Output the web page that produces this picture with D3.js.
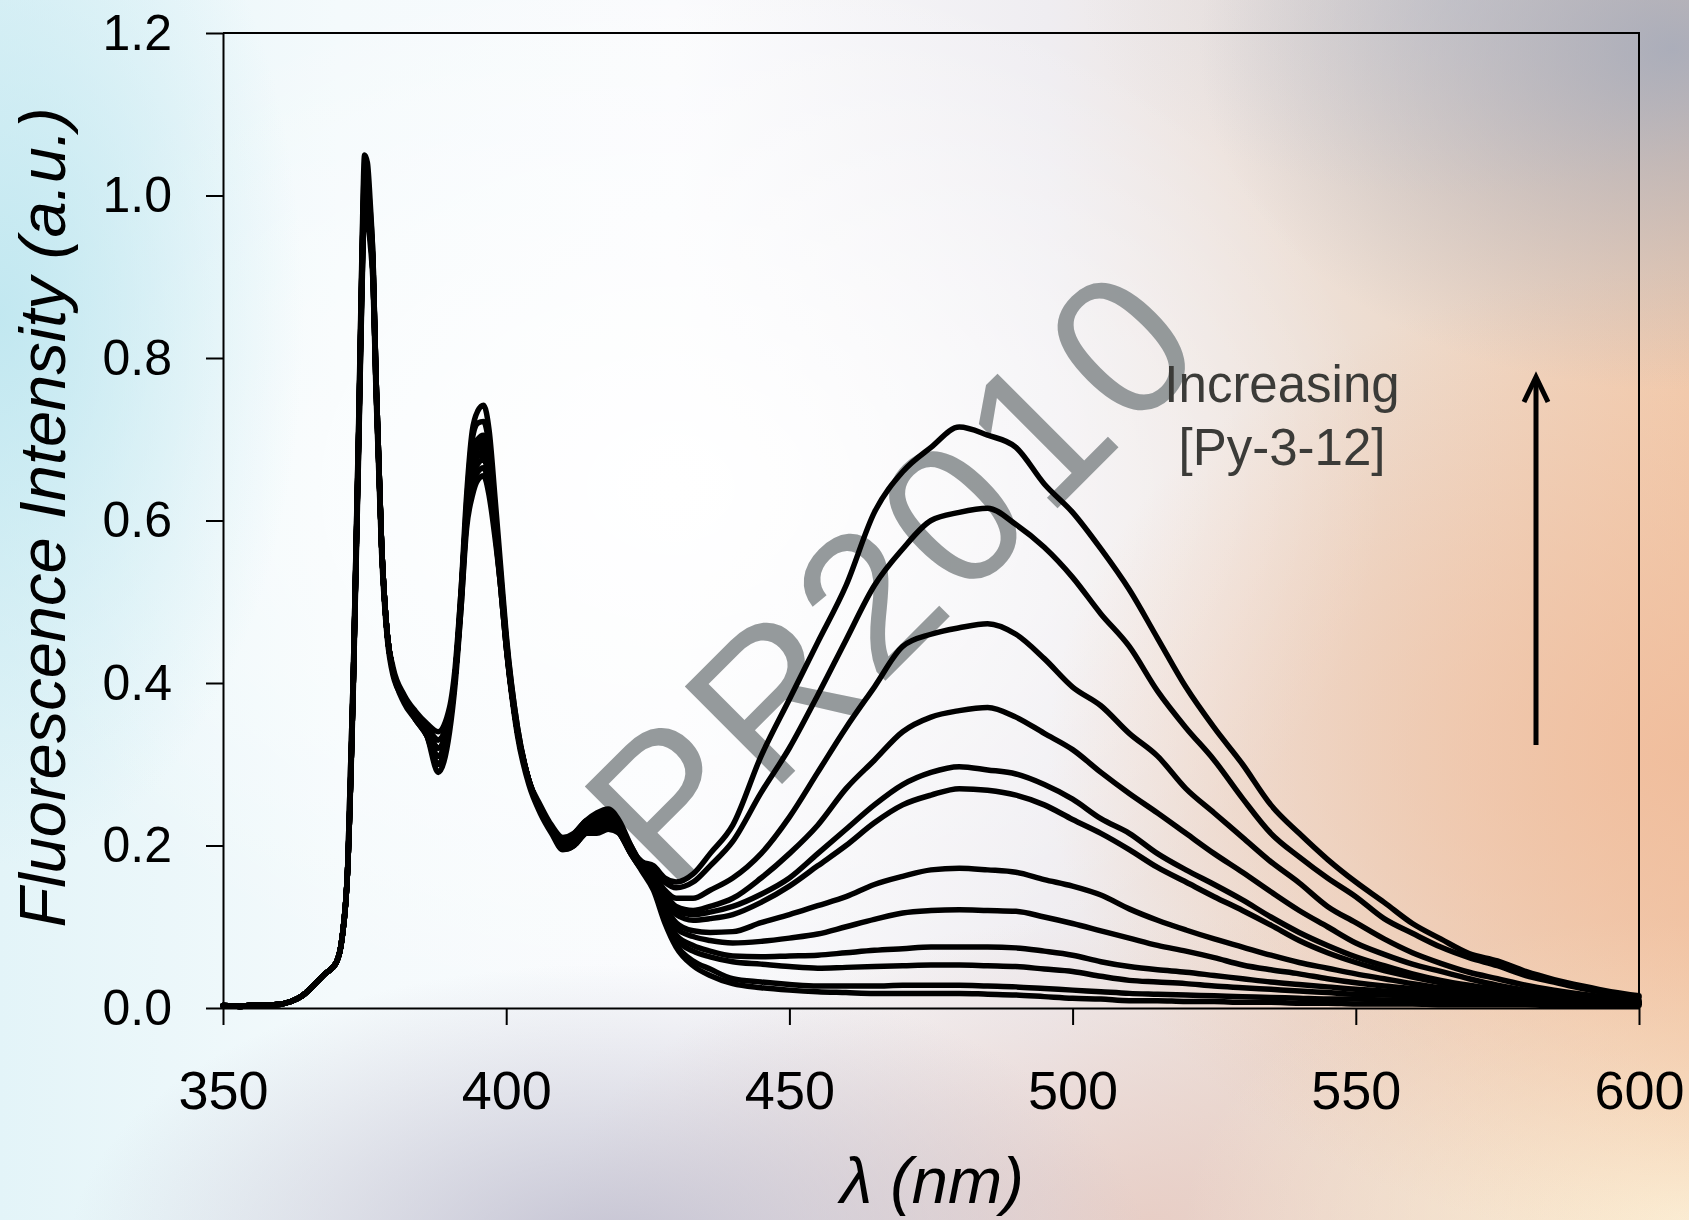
<!DOCTYPE html>
<html>
<head>
<meta charset="utf-8">
<script src="https://cdn.jsdelivr.net/npm/d3@7"></script>
<style>
  body { margin: 0; }
  #chart {
    position: relative;
    width: 1689px;
    height: 1220px;
    overflow: hidden;
    background:
      radial-gradient(ellipse 28% 28% at 99% 4%, rgba(160,168,186,0.85), rgba(160,168,186,0) 100%),
      radial-gradient(ellipse 22% 16% at 86% 0%, rgba(196,204,220,0.45), rgba(196,204,220,0) 100%),
      radial-gradient(ellipse 38% 40% at 100% 62%, rgba(240,186,152,0.8), rgba(240,186,152,0) 100%),
      radial-gradient(ellipse 30% 25% at 100% 100%, rgba(252,240,215,0.95), rgba(252,240,215,0) 100%),
      radial-gradient(ellipse 32% 24% at 36% 103%, rgba(190,188,205,0.9), rgba(190,188,205,0) 100%),
      radial-gradient(ellipse 35% 25% at 68% 100%, rgba(230,200,190,0.8), rgba(230,200,190,0) 100%),
      radial-gradient(ellipse 18% 45% at 0% 26%, rgba(192,231,240,0.95), rgba(192,231,240,0) 100%),
      radial-gradient(ellipse 42% 44% at 40% 40%, rgba(255,255,255,1), rgba(255,255,255,0) 100%),
      linear-gradient(90deg, #e3f4f8 0%, #f4fafc 20%, #fafbfd 40%, #efedf1 62%, #eddccf 82%, #f2cdb0 100%);
  }
  #chart svg { position: absolute; left: 0; top: 0; }
</style>
</head>
<body>
<div id="chart"></div>
<script>
// emission wavelengths (nm), shared by every run
let wavelengths = [350, 353, 356, 359, 362, 364, 366, 368, 370,
  371, 372, 373, 374, 374.5, 375, 375.5, 376, 376.5, 377, 378, 379, 380,
  382, 384, 386, 388, 390, 391, 392, 393, 394, 395, 396, 397, 398, 399, 400,
  402, 404, 406, 408, 410, 412, 414, 416, 418, 420, 422, 424,
  426, 428, 430, 433, 436,
  440, 445, 450, 455, 460, 465, 470, 475, 480, 485, 490, 495, 500, 505, 510, 515, 520,
  525, 530, 535, 540, 545, 550, 555, 560, 565, 570, 575, 580, 585, 590, 595, 600];

let xTicks = [350, 400, 450, 500, 550, 600];
let yTicks = [0, 0.2, 0.4, 0.6, 0.8, 1.0, 1.2];

// fluorescence intensity of each spectrum
let run1 = [.003,.002,.004,.004,.008,.015,.028,.042,.056, .085,.17,.40,.72, .89,1.00,.99,.95,.90,.77, .57,.46,.415, .38,.36,.34,.30,.35,
  .41,.50,.61,.65,.69,.695,.665,.60,.53,.45, .34,.28,.245,.22,.20,.205,.215,.215,.22,.215,.195,.18,
  .175,.16,.155,.165,.19,
  .225,.31,.38,.45,.52,.61,.66,.69,.715,.705,.69,.645,.61,.565,.515,.455,.395,.345,.30,.25,.215,.183,.155,.13,.104,.085,.067,.058,.045,.035,.027,.02,.015];
let run2 = [.003,.002,.004,.004,.008,.015,.028,.042,.056, .085,.17,.41,.74, .92,1.05,1.04,.99,.92,.78, .57,.46,.415, .38,.36,.34,.32,.35,
  .41,.50,.61,.67,.70,.705,.675,.60,.53,.45, .34,.28,.245,.22,.20,.205,.22,.225,.23,.22,.195,.175,
  .17,.155,.148,.155,.175,
  .205,.265,.32,.385,.453,.52,.565,.60,.61,.615,.595,.567,.53,.485,.445,.39,.345,.305,.258,.215,.186,.16,.137,.11,.092,.075,.062,.052,.04,.032,.024,.018,.013];
let run3 = [.003,.002,.004,.004,.008,.015,.028,.042,.056, .085,.17,.40,.72, .90,1.01,1.0,.97,.91,.78, .57,.46,.415, .38,.36,.345,.33,.36,
  .41,.50,.61,.66,.68,.685,.66,.60,.53,.45, .34,.28,.245,.22,.20,.21,.225,.23,.235,.22,.195,.172,
  .165,.145,.135,.135,.145,
  .16,.19,.235,.29,.345,.395,.445,.46,.468,.473,.46,.43,.395,.372,.338,.31,.27,.24,.21,.18,.154,.125,.105,.085,.068,.055,.044,.036,.028,.022,.017,.013,.01];
let run4 = [.003,.002,.004,.004,.008,.015,.028,.042,.056, .085,.17,.40,.71, .88,.99,.98,.95,.90,.77, .57,.46,.415, .375,.355,.335,.29,.34,
  .40,.49,.60,.64,.66,.665,.64,.59,.52,.445, .335,.275,.24,.215,.195,.20,.215,.22,.225,.215,.19,.17,
  .16,.14,.125,.12,.125,
  .135,.16,.19,.225,.27,.305,.34,.358,.366,.37,.358,.338,.318,.29,.264,.24,.215,.19,.167,.143,.12,.10,.08,.066,.054,.045,.036,.028,.022,.017,.013,.01,.008];
let run5 = [.003,.002,.004,.004,.008,.015,.028,.042,.056, .085,.17,.40,.72, .90,1.02,1.01,.97,.91,.78, .57,.46,.42, .385,.365,.35,.34,.37,
  .42,.51,.61,.67,.69,.69,.665,.60,.53,.45, .34,.28,.25,.225,.21,.215,.23,.235,.24,.225,.20,.175,
  .16,.135,.12,.115,.118,
  .125,.14,.16,.19,.22,.25,.275,.29,.297,.293,.288,.275,.257,.233,.215,.19,.17,.152,.133,.112,.093,.077,.063,.052,.042,.034,.028,.023,.018,.014,.011,.009,.007];
let run6 = [.003,.002,.004,.004,.008,.015,.028,.042,.056, .085,.17,.40,.72, .89,1.00,.99,.96,.90,.77, .57,.46,.415, .38,.36,.34,.31,.35,
  .41,.50,.60,.65,.67,.675,.65,.59,.52,.445, .34,.28,.245,.22,.20,.205,.22,.225,.23,.22,.195,.172,
  .158,.132,.115,.108,.11,
  .115,.13,.15,.175,.20,.228,.25,.262,.27,.268,.262,.25,.232,.215,.195,.173,.155,.137,.12,.102,.083,.068,.056,.046,.038,.031,.025,.02,.016,.012,.01,.008,.006];
let run7 = [.003,.002,.004,.004,.008,.015,.028,.042,.056, .085,.17,.39,.70, .87,.98,.97,.94,.89,.76, .56,.455,.41, .38,.36,.34,.32,.355,
  .41,.49,.59,.63,.65,.655,.63,.58,.52,.445, .34,.28,.245,.22,.20,.205,.22,.225,.23,.22,.195,.172,
  .155,.125,.105,.095,.093,
  .094,.105,.115,.126,.137,.152,.162,.17,.172,.17,.167,.158,.15,.139,.122,.108,.096,.085,.075,.065,.056,.049,.042,.036,.03,.025,.022,.019,.016,.013,.01,.008,.006];
let run8 = [.003,.002,.004,.004,.008,.015,.028,.042,.056, .085,.17,.40,.72, .90,1.01,1.0,.97,.91,.78, .57,.46,.415, .38,.355,.335,.30,.35,
  .41,.50,.61,.66,.68,.68,.655,.60,.53,.45, .34,.28,.245,.22,.205,.215,.23,.24,.245,.23,.20,.175,
  .153,.12,.098,.088,.083,
  .08,.082,.086,.091,.10,.109,.117,.12,.121,.12,.119,.112,.104,.095,.086,.077,.07,.062,.053,.047,.042,.036,.031,.027,.024,.021,.019,.017,.014,.012,.01,.008,.006];
let run9 = [.003,.002,.004,.004,.008,.015,.028,.042,.056, .085,.17,.40,.72, .89,1.00,.99,.96,.90,.77, .57,.46,.415, .38,.36,.345,.33,.36,
  .41,.50,.61,.67,.69,.70,.67,.60,.53,.45, .34,.28,.245,.22,.20,.205,.22,.225,.23,.22,.195,.172,
  .15,.115,.09,.077,.07,
  .064,.063,.064,.065,.068,.071,.073,.075,.075,.075,.074,.07,.065,.057,.051,.047,.044,.04,.036,.032,.029,.026,.023,.021,.019,.017,.016,.015,.013,.011,.009,.008,.006];
let run10 = [.003,.002,.004,.004,.008,.015,.028,.042,.056, .085,.17,.41,.73, .91,1.03,1.02,.98,.92,.78, .57,.46,.415, .38,.36,.34,.31,.35,
  .41,.50,.61,.68,.70,.70,.675,.60,.53,.45, .34,.28,.245,.22,.195,.20,.215,.22,.225,.215,.19,.17,
  .15,.112,.085,.07,.063,
  .057,.054,.051,.049,.05,.051,.052,.053,.053,.052,.051,.048,.045,.039,.034,.032,.03,.027,.025,.023,.021,.019,.017,.016,.015,.014,.013,.012,.011,.01,.008,.007,.006];
let run11 = [.003,.002,.004,.004,.008,.015,.028,.042,.056, .085,.17,.40,.71, .88,.99,.98,.95,.90,.77, .57,.46,.415, .38,.36,.345,.32,.355,
  .41,.50,.62,.70,.72,.722,.69,.61,.535,.455, .345,.28,.245,.22,.20,.205,.22,.225,.23,.22,.195,.17,
  .148,.108,.078,.058,.048,
  .036,.032,.029,.027,.027,.027,.028,.028,.028,.027,.026,.024,.022,.02,.018,.017,.016,.015,.014,.013,.012,.011,.011,.01,.01,.009,.009,.008,.007,.007,.006,.005,.005];
let run12 = [.003,.002,.004,.004,.008,.015,.028,.042,.056, .085,.17,.40,.72, .90,1.01,1.0,.97,.91,.78, .57,.46,.415, .38,.355,.335,.30,.35,
  .41,.51,.63,.71,.735,.742,.71,.63,.545,.46, .345,.28,.245,.22,.20,.205,.215,.22,.225,.215,.19,.168,
  .145,.105,.075,.052,.04,
  .03,.025,.022,.02,.019,.018,.018,.018,.018,.017,.016,.014,.012,.011,.009,.009,.008,.008,.007,.007,.006,.006,.005,.005,.005,.004,.004,.004,.004,.003,.003,.003,.003];

let runs = [run12, run11, run10, run9, run8, run7, run6, run5, run4, run3, run2, run1];

let margin = { top: 33, right: 50, bottom: 212, left: 223 },
  totalWidth = 1689,
  totalHeight = 1220,
  width = totalWidth - margin.left - margin.right,
  height = totalHeight - margin.top - margin.bottom;

let font = "'Liberation Sans', Arial, sans-serif";

let svg = d3.select("#chart").append("svg")
  .attr("width", totalWidth)
  .attr("height", totalHeight);

let x = d3.scaleLinear().domain([350, 600]).range([margin.left, margin.left + width]);
let y = d3.scaleLinear().domain([0, 1.2]).range([margin.top + height, margin.top]);

// grey watermark sits behind everything else
svg.append("text")
  .attr("transform", "translate(892,572) rotate(-45)")
  .attr("text-anchor", "middle")
  .attr("dy", "0.36em")
  .attr("font-family", font)
  .style("font-size", "200px")
  .style("letter-spacing", "8px")
  .style("fill", "#8d9294")
  .style("opacity", 0.92)
  .text("PR2010");

// plot frame (top + right edges)
svg.append("path")
  .attr("d", "M" + x(350) + "," + y(1.2) + "H" + x(600) + "V" + y(0))
  .attr("fill", "none")
  .attr("stroke", "#000")
  .attr("stroke-width", 2);

let xAxis = svg.append("g")
  .attr("class", "x axis")
  .attr("transform", "translate(0," + y(0) + ")")
  .call(d3.axisBottom(x).tickValues(xTicks).tickSize(17).tickSizeOuter(0).tickPadding(46).tickFormat(d3.format("d")));

let yAxis = svg.append("g")
  .attr("class", "y axis")
  .attr("transform", "translate(" + x(350) + ",0)")
  .call(d3.axisLeft(y).tickValues(yTicks).tickSize(17).tickSizeOuter(0).tickPadding(34).tickFormat(d3.format(".1f")));

svg.selectAll(".axis path, .axis line")
  .attr("stroke", "#000")
  .attr("stroke-width", 2);

xAxis.selectAll("text")
  .style("fill", "#000")
  .attr("font-family", font)
  .style("font-size", "54px");

yAxis.selectAll("text")
  .style("fill", "#000")
  .attr("font-family", font)
  .style("font-size", "50px");

// axis titles
svg.append("text")
  .attr("transform", "translate(65," + (margin.top + height / 2 - 3) + ") rotate(-90)")
  .attr("text-anchor", "middle")
  .attr("font-family", font)
  .style("font-style", "italic")
  .style("font-size", "65px")
  .style("fill", "#000")
  .text("Fluorescence Intensity (a.u.)");

svg.append("text")
  .attr("x", 932)
  .attr("y", 1203)
  .attr("text-anchor", "middle")
  .attr("font-family", font)
  .style("font-style", "italic")
  .style("font-size", "65px")
  .style("fill", "#000")
  .text("λ (nm)");

// spectra
let line = d3.line()
  .x(function (d, i) { return x(wavelengths[i]); })
  .y(function (d) { return y(d); })
  .curve(d3.curveMonotoneX);

svg.append("g")
  .attr("class", "spectra")
  .selectAll("path")
  .data(runs)
  .enter().append("path")
  .attr("d", line)
  .attr("fill", "none")
  .attr("stroke", "#000")
  .attr("stroke-width", 5.5)
  .attr("stroke-linejoin", "round")
  .attr("stroke-linecap", "round");

// annotation
let note = svg.append("g")
  .attr("font-family", font)
  .style("font-size", "51px")
  .style("fill", "#3b3b38")
  .attr("text-anchor", "middle");
note.append("text").attr("x", 1282).attr("y", 402).text("Increasing");
note.append("text").attr("x", 1282).attr("y", 465).text("[Py-3-12]");

svg.append("line")
  .attr("x1", 1536).attr("y1", 745)
  .attr("x2", 1536).attr("y2", 380)
  .attr("stroke", "#000")
  .attr("stroke-width", 5);
svg.append("path")
  .attr("d", "M1524,402L1536,377L1548,402")
  .attr("fill", "none")
  .attr("stroke", "#000")
  .attr("stroke-width", 5);
</script>
</body>
</html>
